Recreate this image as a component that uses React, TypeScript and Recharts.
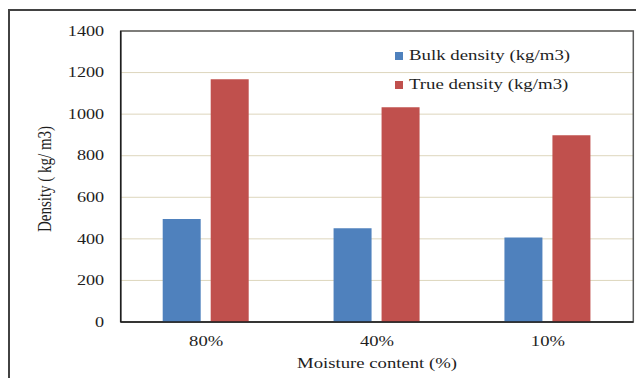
import React from 'react';
import {
  BarChart,
  Bar,
  XAxis,
  YAxis,
  CartesianGrid,
  Legend,
  ReferenceArea,
  Label,
} from 'recharts';

// Moisture levels (categories) and measured densities in kg/m3
const moistureLevels = ['80%', '40%', '10%'];
const bulkDensity = [495, 451, 407];
const trueDensity = [1168, 1033, 898];
const densityTicks = [0, 200, 400, 600, 800, 1000, 1200, 1400];

const seriesNames = ['Bulk density (kg/m3)', 'True density (kg/m3)'];

const data = moistureLevels.map((moisture, i) => ({
  moisture,
  bulk: bulkDensity[i],
  true: trueDensity[i],
}));

const FONT = '"Liberation Serif", "Times New Roman", Times, serif';
const TEXT = '#1e1e1e';
// glyphs are drawn slightly wide
const WIDE = 1.3;

const YTick = (props: any) => {
  const { x, y, payload } = props;
  return (
    <text
      transform={`translate(${x},${y}) scale(${WIDE},1)`}
      textAnchor="end"
      dy="0.34em"
      fontSize={14}
      fontFamily={FONT}
      fill={TEXT}
    >
      {payload.value}
    </text>
  );
};

const XTick = (props: any) => {
  const { x, y, payload } = props;
  return (
    <text
      transform={`translate(${x},${y + 23.5}) scale(${WIDE},1)`}
      textAnchor="middle"
      fontSize={14.3}
      fontFamily={FONT}
      fill={TEXT}
    >
      {payload.value}
    </text>
  );
};

const XTitle = (props: any) => {
  const vb = props.viewBox;
  return (
    <text
      transform={`translate(${vb.x + vb.width / 2},${vb.y + 46}) scale(${WIDE},1)`}
      textAnchor="middle"
      fontSize={14.4}
      fontFamily={FONT}
      fill={TEXT}
    >
      Moisture content (%)
    </text>
  );
};

const YTitle = (props: any) => {
  const vb = props.viewBox;
  return (
    <text
      transform={`translate(${vb.x + 50.7},${vb.y + vb.height / 2 + 2.5}) scale(${WIDE},1) rotate(-90)`}
      textAnchor="middle"
      fontSize={15}
      fontFamily={FONT}
      fill={TEXT}
    >
      Density ( kg/ m3)
    </text>
  );
};

const LegendBox = (props: any) => {
  const items = props.payload || [];
  return (
    <svg width={250} height={70} style={{ display: 'block' }}>
      {items.map((entry: any, i: number) => (
        <g key={entry.value} transform={`translate(0,${i * 29})`}>
          <rect x={5} y={12} width={8} height={8} fill={entry.color} />
          <text
            transform={`translate(19,19.5) scale(${WIDE},1)`}
            fontSize={14.5}
            fontFamily={FONT}
            fill={TEXT}
          >
            {entry.value}
          </text>
        </g>
      ))}
    </svg>
  );
};

export default function App() {
  return (
    <div
      style={{
        margin: -8,
        width: 644,
        height: 386,
        position: 'relative',
        overflow: 'hidden',
        background: '#fff',
      }}
    >
      <div
        style={{
          position: 'absolute',
          left: 8,
          top: 9,
          width: 1000,
          height: 1000,
          borderLeft: '2px solid #424242',
          borderTop: '2px solid #424242',
        }}
      />
      <div style={{ position: 'absolute', left: 0, top: 0 }}>
        <BarChart
          width={644}
          height={386}
          data={data}
          margin={{ top: 31, right: 10.7, bottom: 24, left: 0 }}
          barSize={38}
          barGap={10}
        >
          <CartesianGrid vertical={false} stroke="#ddd6bd" strokeWidth={1} />
          <ReferenceArea
            y1={0}
            y2={1400}
            fill="none"
            stroke="#5a5a5a"
            strokeWidth={1.5}
            ifOverflow="visible"
          />
          <XAxis
            dataKey="moisture"
            height={40}
            tickLine={false}
            tickSize={0}
            tickMargin={0}
            axisLine={{ stroke: '#1e1e1e', strokeWidth: 1.5 }}
            tick={<XTick />}
            interval={0}
          >
            <Label content={<XTitle />} />
          </XAxis>
          <YAxis
            width={120.7}
            domain={[0, 1400]}
            ticks={densityTicks}
            interval={0}
            tickLine={false}
            tickSize={0}
            tickMargin={16.5}
            axisLine={{ stroke: '#1e1e1e', strokeWidth: 1.5 }}
            tick={<YTick />}
          >
            <Label content={<YTitle />} />
          </YAxis>
          <Legend
            layout="vertical"
            verticalAlign="middle"
            align="center"
            content={<LegendBox />}
            wrapperStyle={{ position: 'absolute', left: 390, top: 40, width: 250, height: 70 }}
          />
          <Bar
            dataKey="bulk"
            name={seriesNames[0]}
            fill="#4f81bd"
            isAnimationActive={false}
          />
          <Bar
            dataKey="true"
            name={seriesNames[1]}
            fill="#c0504d"
            isAnimationActive={false}
          />
        </BarChart>
      </div>
    </div>
  );
}
